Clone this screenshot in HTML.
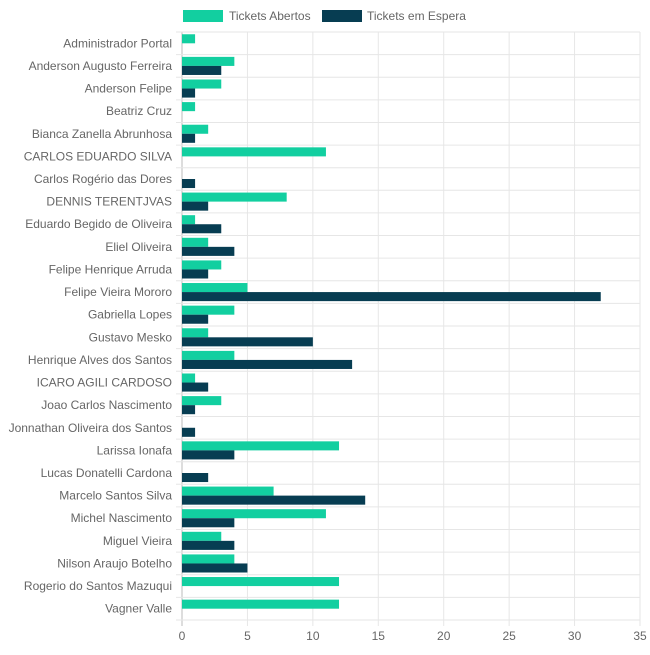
<!DOCTYPE html>
<html><head><meta charset="utf-8"><style>
body{margin:0;background:#fff;font-family:"Liberation Sans",sans-serif;}
svg text{font-family:"Liberation Sans",sans-serif;fill:#666;font-size:12px;}
</style></head><body>
<svg id="chart" width="650" height="650">
<g>
<rect x="183" y="10" width="40" height="12" fill="#12cfa0"/>
<text x="229" y="20">Tickets Abertos</text>
<rect x="322" y="10" width="40" height="12" fill="#073d52"/>
<text x="367" y="20">Tickets em Espera</text>
</g>
<g id="grid"></g><g id="bars"></g><g id="labels"></g>
</svg>
<script>
const categories=["Administrador Portal","Anderson Augusto Ferreira","Anderson Felipe","Beatriz Cruz","Bianca Zanella Abrunhosa","CARLOS EDUARDO SILVA","Carlos Rogério das Dores","DENNIS TERENTJVAS","Eduardo Begido de Oliveira","Eliel Oliveira","Felipe Henrique Arruda","Felipe Vieira Mororo","Gabriella Lopes","Gustavo Mesko","Henrique Alves dos Santos","ICARO AGILI CARDOSO","Joao Carlos Nascimento","Jonnathan Oliveira dos Santos","Larissa Ionafa","Lucas Donatelli Cardona","Marcelo Santos Silva","Michel Nascimento","Miguel Vieira","Nilson Araujo Botelho","Rogerio do Santos Mazuqui","Vagner Valle"];
const abertos=[1,4,3,1,2,11,0,8,1,2,3,5,4,2,4,1,3,0,12,0,7,11,3,4,12,12];
const espera=[0,3,1,0,1,0,1,2,3,4,2,32,2,10,13,2,1,1,4,2,14,4,4,5,0,0];
const ticks=[0,5,10,15,20,25,30,35];
const NS="http://www.w3.org/2000/svg";
const x0=182,x1=640,y0=32,y1=620,xmax=35;
const xs=v=>x0+(v/xmax)*(x1-x0);
const band=(y1-y0)/categories.length;
const yb=i=>y0+i*band;
function mk(t,a,p){const e=document.createElementNS(NS,t);for(const k in a)e.setAttribute(k,a[k]);p.appendChild(e);return e;}
const grid=document.getElementById('grid'),bars=document.getElementById('bars'),labels=document.getElementById('labels');
ticks.forEach(t=>{
 const l=mk('line',{x1:xs(t),x2:xs(t),y1:y0,y2:y1+6,stroke:t===0?'#bbb':'#e6e6e6'},grid);
 
 
 const tx=mk('text',{x:xs(t),y:y1+20,'text-anchor':'middle'},labels);tx.textContent=t;
 
 
});
for(let i=0;i<=categories.length;i++){
 const l=mk('line',{x1:x0-6,x2:x1,y1:yb(i),y2:yb(i),stroke:'#e6e6e6'},grid);
 
 
}
const bh=band*0.4;
categories.forEach((c,i)=>{
 const t=mk('text',{x:x0-10,y:yb(i)+band/2+4,'text-anchor':'end'},labels);t.textContent=c;
 
 
 const top=yb(i)+band*0.1;
 const a=mk('rect',{x:x0,y:top,width:xs(abertos[i])-x0,height:bh,fill:'#12cfa0'},bars);
 
 
 const e=mk('rect',{x:x0,y:top+bh,width:xs(espera[i])-x0,height:bh,fill:'#073d52'},bars);
 
 
});
</script>
</body></html>
